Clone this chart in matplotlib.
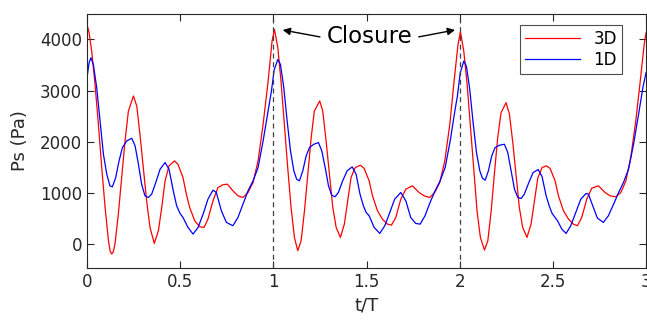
#Importing the libraries
import numpy as np
import matplotlib
matplotlib.use('Agg')
import matplotlib.pyplot as plt

# Data (t/T, Ps in Pa)
t_3d = [0.000, 0.011, 0.025, 0.043, 0.061, 0.079, 0.097, 0.115, 0.124, 0.132, 0.141, 0.150,
        0.168, 0.186, 0.204, 0.222, 0.249, 0.267, 0.284, 0.302, 0.320, 0.338, 0.361, 0.383,
        0.401, 0.419, 0.440, 0.469, 0.488, 0.515, 0.533, 0.551, 0.578, 0.605, 0.628, 0.649,
        0.676, 0.703, 0.730, 0.753, 0.783, 0.810, 0.837, 0.864, 0.891, 0.918, 0.945, 0.972,
        0.993, 1.006,
        1.024, 1.041, 1.059, 1.077, 1.095, 1.113, 1.131, 1.149, 1.167, 1.185, 1.203, 1.220,
        1.249, 1.265, 1.283, 1.301, 1.319, 1.337, 1.360, 1.381, 1.399, 1.417, 1.439, 1.467,
        1.487, 1.514, 1.532, 1.559, 1.585, 1.612, 1.634, 1.657, 1.684, 1.711, 1.746, 1.782,
        1.809, 1.839, 1.866, 1.893, 1.920, 1.947, 1.970, 1.991, 2.004,
        2.022, 2.040, 2.058, 2.076, 2.093, 2.111, 2.133, 2.151, 2.169, 2.186, 2.204, 2.222,
        2.249, 2.267, 2.285, 2.303, 2.320, 2.338, 2.361, 2.383, 2.401, 2.419, 2.442, 2.465,
        2.485, 2.512, 2.530, 2.557, 2.584, 2.610, 2.632, 2.655, 2.682, 2.709, 2.745, 2.780,
        2.807, 2.838, 2.865, 2.892, 2.918, 2.945, 2.969, 2.990, 3.000]
p_3d = [4293, 4130, 3772, 3122, 2341, 1496, 715, 65, -140, -195, -150, 0,
        585, 1300, 2016, 2600, 2894, 2700, 2146, 1496, 845, 325, 13, 260,
        715, 1236, 1528, 1626, 1560, 1300, 976, 715, 455, 338, 325, 488,
        845, 1106, 1160, 1171, 1041, 943, 911, 1008, 1203, 1626, 2341, 3187,
        3967, 4195,
        3837, 3187, 2341, 1496, 715, 130, -130, 65, 650, 1366, 2081, 2602,
        2797, 2602, 2016, 1366, 715, 325, 130, 390, 845, 1301, 1496, 1541,
        1480, 1236, 943, 650, 488, 390, 371, 520, 878, 1073, 1138, 1008,
        943, 911, 1008, 1203, 1626, 2341, 3187, 3902, 4150,
        3772, 3122, 2276, 1431, 650, 130, -117, 65, 650, 1366, 2081, 2569,
        2764, 2537, 1984, 1333, 715, 325, 130, 390, 845, 1288, 1496, 1528,
        1480, 1236, 943, 650, 488, 390, 358, 520, 878, 1093, 1138, 1008,
        943, 924, 1008, 1236, 1691, 2406, 3187, 3902, 4130]

t_1d = [0.000, 0.011, 0.021, 0.034, 0.052, 0.070, 0.088, 0.106, 0.123, 0.136, 0.154, 0.172,
        0.190, 0.213, 0.240, 0.258, 0.276, 0.293, 0.311, 0.329, 0.347, 0.369, 0.392, 0.419,
        0.440, 0.463, 0.481, 0.499, 0.515, 0.542, 0.569, 0.596, 0.623, 0.649, 0.676, 0.694,
        0.721, 0.748, 0.783, 0.810, 0.837, 0.864, 0.891, 0.918, 0.945, 0.972, 0.990, 1.004,
        1.024,
        1.038, 1.056, 1.074, 1.092, 1.110, 1.125, 1.140, 1.158, 1.176, 1.194, 1.217, 1.242,
        1.260, 1.278, 1.296, 1.313, 1.331, 1.349, 1.372, 1.396, 1.423, 1.444, 1.465, 1.483,
        1.498, 1.514, 1.541, 1.571, 1.598, 1.625, 1.651, 1.684, 1.711, 1.737, 1.764, 1.788,
        1.814, 1.841, 1.868, 1.895, 1.922, 1.949, 1.974, 1.988, 2.003, 2.022,
        2.036, 2.054, 2.072, 2.090, 2.108, 2.122, 2.137, 2.154, 2.172, 2.190, 2.213, 2.240,
        2.258, 2.276, 2.294, 2.312, 2.330, 2.347, 2.371, 2.394, 2.421, 2.442, 2.464, 2.482,
        2.496, 2.525, 2.548, 2.571, 2.596, 2.623, 2.650, 2.678, 2.691, 2.714, 2.739, 2.771,
        2.798, 2.826, 2.853, 2.879, 2.906, 2.933, 2.960, 2.983, 3.000]
p_1d = [3252, 3545, 3642, 3512, 3057, 2406, 1756, 1366, 1138, 1119, 1301, 1626,
        1886, 2016, 2068, 1919, 1561, 1171, 943, 911, 976, 1203, 1463, 1594,
        1463, 1041, 748, 600, 520, 325, 195, 325, 585, 878, 1054, 1008,
        650, 423, 358, 520, 780, 1041, 1236, 1496, 2016, 2602, 3000, 3400,
        3610,
        3512, 3057, 2406, 1821, 1431, 1268, 1236, 1431, 1724, 1886, 1951, 1984,
        1821, 1496, 1138, 956, 924, 1008, 1236, 1431, 1509, 1366, 976, 748,
        618, 553, 325, 208, 358, 618, 878, 1008, 845, 520, 403, 390,
        553, 813, 1041, 1236, 1496, 2016, 2602, 2900, 3350, 3577,
        3480, 3024, 2374, 1789, 1431, 1288, 1249, 1431, 1724, 1886, 1932, 1951,
        1789, 1431, 1073, 911, 891, 976, 1203, 1398, 1457, 1320, 943, 728,
        598, 455, 293, 208, 358, 618, 878, 989, 976, 748, 507, 423,
        553, 780, 1008, 1203, 1463, 1951, 2537, 3057, 3350]

closures = [1, 2]
x_ticks = [0, 0.5, 1, 1.5, 2, 2.5, 3]
y_ticks = [0, 1000, 2000, 3000, 4000]

# Plotting
fig = plt.figure(figsize=(6.47, 3.23), dpi=100)
ax = fig.add_axes([0.1345, 0.170, 0.864, 0.787])

ax.plot(t_3d, p_3d, color='#ff0000', lw=0.9, label='3D')
ax.plot(t_1d, p_1d, color='#0000ff', lw=0.9, label='1D')

for xc in closures:
    ax.axvline(xc, color='0.25', ls=(0, (4, 3)), lw=0.9)

ax.text(1.515, 4050, 'Closure', fontsize=16.5, ha='center', va='center')
ax.annotate('', xy=(1.05, 4185), xytext=(1.25, 4050),
            arrowprops=dict(arrowstyle='-|>', color='k', lw=1, mutation_scale=11, shrinkA=0, shrinkB=0))
ax.annotate('', xy=(1.975, 4185), xytext=(1.78, 4050),
            arrowprops=dict(arrowstyle='-|>', color='k', lw=1, mutation_scale=11, shrinkA=0, shrinkB=0))

ax.set_xlim(0, 3)
ax.set_ylim(-470, 4500)
ax.set_xticks(x_ticks)
ax.set_xticklabels(['0', '0.5', '1', '1.5', '2', '2.5', '3'])
ax.set_yticks(y_ticks)
ax.tick_params(direction='in', top=True, right=True, length=5, width=0.8,
               labelsize=12, colors='0.15')
for s in ax.spines.values():
    s.set_color('0.15')
    s.set_linewidth(0.8)

ax.set_xlabel('t/T', fontsize=13, color='0.15')
ax.set_ylabel('Ps (Pa)', fontsize=13, color='0.15', labelpad=8)

leg = ax.legend(loc='upper right', bbox_to_anchor=(0.957, 0.957), borderaxespad=0,
                fontsize=12, fancybox=False, framealpha=1, edgecolor='0.3',
                handlelength=3.3, borderpad=0.3, labelspacing=0.2)
leg.get_frame().set_linewidth(0.8)

plt.savefig('out.png', dpi=100)
